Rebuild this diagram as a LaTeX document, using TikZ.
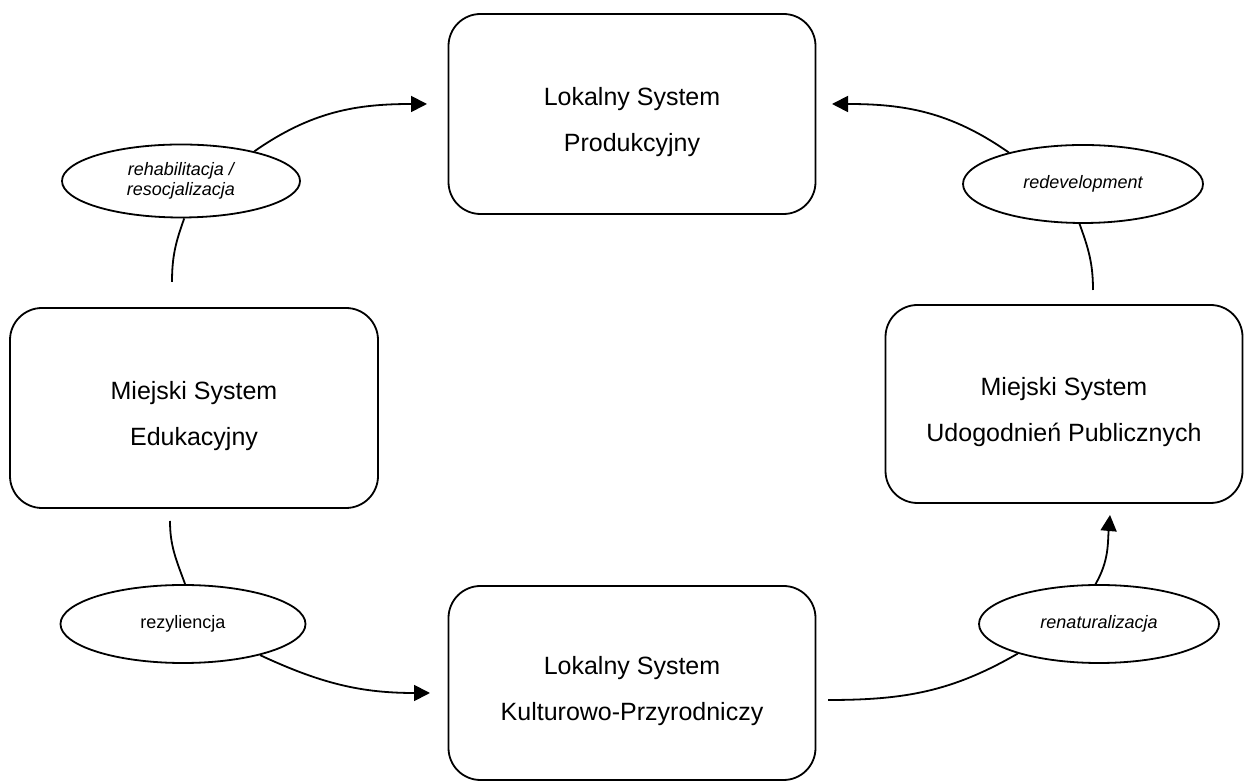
\documentclass[tikz,border=0pt]{standalone}
\usepackage{fontspec}
\setmainfont{Liberation Sans}
\usetikzlibrary{shapes.geometric,arrows.meta}
\newcommand{\topstrut}{\rule{0pt}{34pt}}

\begin{document}
\begin{tikzpicture}[x=1pt, y=1pt, line width=1.8pt, >={Triangle[length=16pt,width=16pt]}]
        \tikzstyle{sysbox}=[draw, rounded corners=32pt, align=center, font=\fontsize{25}{46}\selectfont]
        \tikzstyle{proc}=[draw, ellipse, inner sep=0pt, align=center, font=\fontsize{18}{20.5}\selectfont\itshape]
        \useasboundingbox (0,0) rectangle (1244,781);
        % systemy
        \node [sysbox, minimum width=367pt, minimum height=200pt] (lsp) at (632,667) {\topstrut Lokalny System\\Produkcyjny};
        \node [sysbox, minimum width=368pt, minimum height=200pt] (mse) at (194,373) {\topstrut Miejski System\\Edukacyjny};
        \node [sysbox, minimum width=357pt, minimum height=198pt] (msu) at (1064,377) {\topstrut Miejski System\\Udogodnień Publicznych};
        \node [sysbox, minimum width=367pt, minimum height=194pt] (lsk) at (632,98) {\topstrut Lokalny System\\Kulturowo-Przyrodniczy};
        % procesy
        \node [proc, minimum width=238pt, minimum height=73pt] (reh) at (181,600) {rehabilitacja /\\resocjalizacja};
        \node [proc, minimum width=240pt, minimum height=78pt] (red) at (1083,597) {redevelopment};
        \node [proc, minimum width=245pt, minimum height=78pt, font=\fontsize{18}{20.5}\selectfont] (rez) at (183,157) {rezyliencja};
        \node [proc, minimum width=240pt, minimum height=78pt] (ren) at (1099,157) {renaturalizacja};
        % wolne konce strzalek
        \coordinate (a1) at (172,499); \coordinate (t1) at (427,677);
        \coordinate (a2) at (1093,491); \coordinate (t2) at (832,677);
        \coordinate (a3) at (170,260); \coordinate (t3) at (430,88);
        \coordinate (a4) at (828,81); \coordinate (t4) at (1110,266);
        \draw (a1) to[out=90,in=-110] (reh.-85);
        \draw[->] (reh.22) to[out=35,in=180] (t1);
        \draw (a2) to[out=90,in=-70] (red.-95);
        \draw[->] (red.157) to[out=145,in=0] (t2);
        \draw (a3) to[out=-90,in=110] (rez.87);
        \draw[->] (rez.-22) to[out=-25,in=180] (t3);
        \draw (a4) to[out=0,in=-150] (ren.200);
        \draw[->] (ren.95) to[out=60,in=-95] (t4);
    \end{tikzpicture}
\end{document}
